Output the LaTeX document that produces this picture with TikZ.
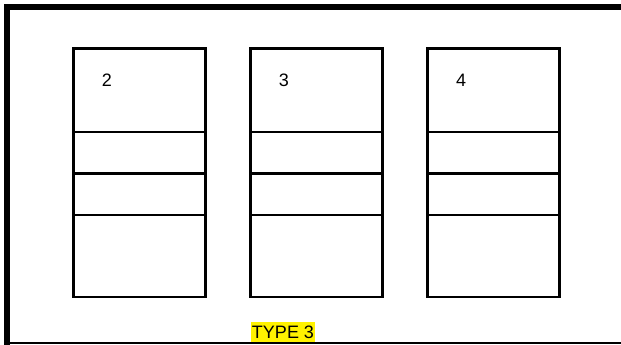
\documentclass[tikz,border=0pt]{standalone}
\usepackage{fontspec}
\setmainfont{Liberation Sans}
\begin{document}
\begin{tikzpicture}[x=1pt,y=-1pt,
  cell/.style={line width=2.5pt},
  num/.style={font=\fontsize{18}{21}\selectfont},
  tag/.style={font=\fontsize{18}{21}\selectfont,fill=yellow,inner xsep=1pt,inner ysep=4pt}]
  \useasboundingbox (0,0) rectangle (621,345);
  \pgfmathsetmacro{\bw}{132}\pgfmathsetmacro{\yT}{48.5}\pgfmathsetmacro{\yB}{297}

  % ---- three cabinets, each split in four ---------------------------------
  \foreach \n/\x in {2/73.5, 3/250.5, 4/427.5} {
    \draw[cell] (\x,\yT) rectangle (\x+\bw,\yB);
    \foreach \y in {132,173.5,215}
      \draw[cell] (\x,\y) -- (\x+\bw,\y);
    \node[num] (lbl\n) at (\x+33.5,80) {\n};
  }

  % ---- caption --------------------------------------------------------------
  \node[tag] (type) at (283,332) {TYPE 3};

  % ---- outer frame: heavy top and left, thin bottom ------------------------
  \draw[line width=6pt] (7,345) -- (7,7) -- (621,7);
  \draw[line width=2pt] (4,343) -- (621,343);
\end{tikzpicture}
\end{document}
